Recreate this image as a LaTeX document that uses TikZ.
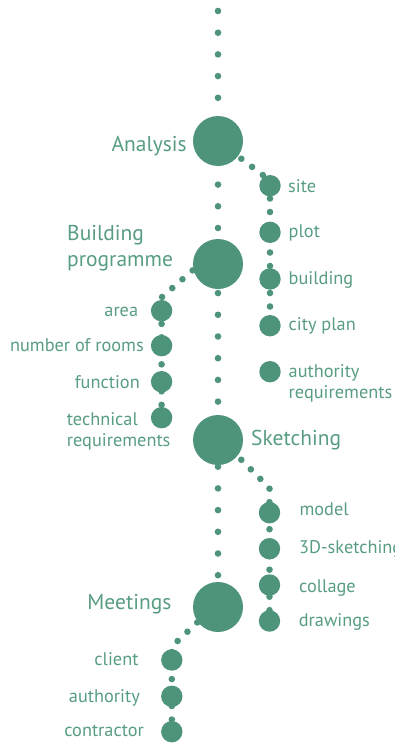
\documentclass[tikz,border=0pt]{standalone}
\usepackage{fontspec}
\setmainfont{PT Sans}
\usetikzlibrary{decorations.markings}
\definecolor{gc}{RGB}{78,148,122}
\definecolor{tc}{RGB}{88,157,129}
\tikzset{
  big/.style={circle, fill=gc, minimum size=50pt, inner sep=0pt},
  mid/.style={circle, fill=gc, minimum size=21.4pt, inner sep=0pt},
  lab/.style={text=tc, font=\fontsize{18.3}{21.2}\selectfont, inner sep=0pt},
  biglab/.style={text=tc, font=\fontsize{21.5}{25.7}\selectfont, inner sep=0pt},
  dotrow/.style 2 args={decoration={markings,
      mark=between positions #1 and 1 step #2 with {\fill[gc] (0,0) circle (3.3pt);}},
      decorate},
}
\begin{document}
\begin{tikzpicture}[x=1pt,y=-1pt]
\path[use as bounding box] (0,0) rectangle (395,744);
% main circles
\node[big] (an) at (218,141) {};
\node[big] (bp) at (218,264) {};
\node[big] (sk) at (218,440) {};
\node[big] (mt) at (218,607) {};
% analysis branch
\node[mid] (site) at (270,185.7) {};
\node[mid] (plot) at (270,232.3) {};
\node[mid] (bldg) at (270,279) {};
\node[mid] (city) at (270,325.7) {};
\node[mid] (authr) at (270,371.7) {};
% building programme branch
\node[mid] (area) at (161.6,310.7) {};
\node[mid] (rooms) at (161.6,345.7) {};
\node[mid] (func) at (161.6,381.7) {};
\node[mid] (tech) at (161.6,417.7) {};
% sketching branch
\node[mid] (model) at (269.5,512.7) {};
\node[mid] (skd) at (269.5,548.7) {};
\node[mid] (coll) at (269.5,585) {};
\node[mid] (drw) at (269.5,621) {};
% meetings branch
\node[mid] (client) at (171.8,660) {};
\node[mid] (authy) at (171.8,696.3) {};
\node[mid] (contr) at (171.8,731.7) {};
% coordinates
\coordinate (top) at (218,11);
\coordinate (abend) at (270,180.5);
\coordinate (b0) at (202.8,261.5);
\coordinate (bbend) at (161.6,297.4);
\coordinate (s0) at (218,436.4);
\coordinate (sbend) at (269.5,488.1);
\coordinate (m0) at (216.9,603.9);
\coordinate (mbend) at (171.8,646.5);
% dotted connectors
\path[dotrow={0pt}{21.7pt}] (top) -- (an.center) -- (bp.center) -- (sk.center) -- (mt.center);
\path[dotrow={2.3pt}{13.5pt}] (an.center) -- (abend) -- (site.center) -- (plot.center) -- (bldg.center) -- (city.center);
\path[dotrow={0pt}{13.5pt}] (b0) -- (bbend) -- (area.center) -- (rooms.center) -- (func.center) -- (tech.center);
\path[dotrow={6pt}{13.5pt}] (s0) -- (sbend) -- (model.center) -- (skd.center) -- (coll.center) -- (drw.center);
\path[dotrow={0pt}{13.5pt}] (m0) -- (mbend) -- (client.center) -- (authy.center) -- (contr.center);
% labels
\node[biglab, anchor=base east] (tan) at (187,151) {Analysis};
\node[biglab, anchor=base west, align=left] (tbp) at (67,266) {Building\\programme};
\node[biglab, anchor=base west] (tsk) at (251,445) {Sketching};
\node[biglab, anchor=base east] (tmt) at (171.7,609.7) {Meetings};
\node[lab, anchor=base west] (tsite) at (288,192.3) {site};
\node[lab, anchor=base west] (tplot) at (288.5,237.3) {plot};
\node[lab, anchor=base west] (tbldg) at (288.5,284.3) {building};
\node[lab, anchor=base west] (tcity) at (288.5,330.7) {city plan};
\node[lab, anchor=base west, align=left] (tauthr) at (288.5,398.3) {authority\\requirements};
\node[lab, anchor=base east] (tarea) at (138.3,316) {area};
\node[lab, anchor=base east] (trooms) at (144,351) {number of rooms};
\node[lab, anchor=base east] (tfunc) at (140,388.3) {function};
\node[lab, anchor=base west, align=left] (ttech) at (66.7,446.7) {technical\\requirements};
\node[lab, anchor=base west] (tmodel) at (299.3,515) {model};
\node[lab, anchor=base west] (tskd) at (299,553.3) {3D-sketching};
\node[lab, anchor=base west] (tcoll) at (299,592.7) {collage};
\node[lab, anchor=base west] (tdrw) at (298.7,626.7) {drawings};
\node[lab, anchor=base east] (tclient) at (138.7,665.7) {client};
\node[lab, anchor=base east] (tauthy) at (140,702.3) {authority};
\node[lab, anchor=base east] (tcontr) at (144,736.7) {contractor};
\end{tikzpicture}
\end{document}
